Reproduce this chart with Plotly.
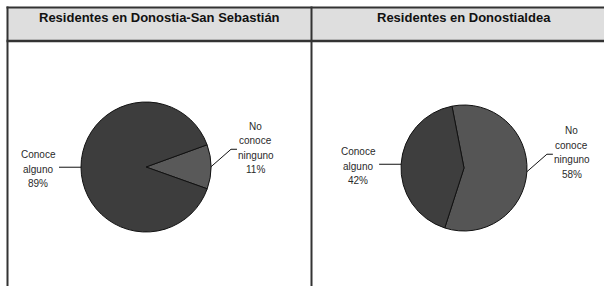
import math
import plotly.graph_objects as go

# ---- data ----
titles = ["Residentes en Donostia-San Sebastián", "Residentes en Donostialdea"]
labels = ["No conoce ninguno", "Conoce alguno"]
values_ss = [11, 89]
values_dl = [58, 42]
colors_ss = ["#595959", "#3d3d3d"]
colors_dl = ["#555555", "#3e3e3e"]

W, H = 604, 286

# pie geometry (pixel layout): center x, center y, radius, rotation
pies = [
    dict(values=values_ss, colors=colors_ss, cx=146, cy=167, r=65, rot=70),
    dict(values=values_dl, colors=colors_dl, cx=464, cy=168, r=63, rot=-11),
]

def px(x):
    return x / W

def py(y):
    return 1 - y / H

fig = go.Figure()
shapes = []
annotations = []
LINE_SP = 14.5
FONT_LBL = dict(family="Liberation Sans, Arial, sans-serif", size=10, color="#2a2a2a")

for p in pies:
    fig.add_trace(go.Pie(
        labels=labels, values=p["values"], sort=False, direction="clockwise",
        rotation=p["rot"], textinfo="none", hoverinfo="label+percent",
        marker=dict(colors=p["colors"], line=dict(color="#111111", width=1)),
        domain=dict(x=[px(p["cx"] - p["r"]), px(p["cx"] + p["r"])],
                    y=[py(p["cy"] + p["r"]), py(p["cy"] - p["r"])]),
        showlegend=False,
    ))
    total = sum(p["values"])
    start = p["rot"]
    for lab, v in zip(labels, p["values"]):
        span = 360 * v / total
        mid = math.radians(start + span / 2)
        start += span
        ex = p["cx"] + p["r"] * math.sin(mid)
        ey = p["cy"] - p["r"] * math.cos(mid)
        pct = round(100 * v / total)
        words = lab.split(" ") + [f"{pct}%"]
        if math.sin(mid) < 0:  # left side label
            lx, lcy = ex - 43, ey + 2
            path = f"M {px(ex)} {py(ey)} L {px(ex - 22)} {py(ey)}"
        else:  # right side label
            lx, lcy = ex + 45, ey - 19
            elx, ely = ex + 20, lcy + 1.5
            path = f"M {px(ex)} {py(ey)} L {px(elx)} {py(ely)} L {px(elx + 6)} {py(ely)}"
        shapes.append(dict(type="path", xref="paper", yref="paper", path=path,
                           line=dict(color="#111111", width=1)))
        n = len(words)
        for i, w in enumerate(words):
            yy = lcy + (i - (n - 1) / 2) * LINE_SP
            annotations.append(dict(x=px(lx), y=py(yy), xref="paper", yref="paper",
                                    text=w, showarrow=False, xanchor="center",
                                    yanchor="middle", font=FONT_LBL))

# table frame
BORDER = "#333333"
shapes.insert(0, dict(type="rect", xref="paper", yref="paper", x0=px(7), x1=1.0,
                      y0=py(41), y1=py(7), fillcolor="#dedede", line=dict(width=0),
                      layer="below"))
for x in [7.5, 311.5]:
    shapes.append(dict(type="line", xref="paper", yref="paper", x0=px(x), x1=px(x),
                       y0=py(6.5), y1=0, line=dict(color=BORDER, width=2)))
for y in [7.5, 41]:
    shapes.append(dict(type="line", xref="paper", yref="paper", x0=px(6.5), x1=1.0,
                       y0=py(y), y1=py(y), line=dict(color=BORDER, width=2.5 if y > 10 else 2)))

for t, cx in zip(titles, [159.5, 464]):
    annotations.append(dict(x=px(cx), y=py(18), xref="paper", yref="paper",
                            text=f"<b>{t}</b>", showarrow=False, xanchor="center",
                            yanchor="middle",
                            font=dict(family="Liberation Sans, Arial, sans-serif",
                                      size=13, color="#111111")))

fig.update_layout(
    width=W, height=H, margin=dict(l=0, r=0, t=0, b=0),
    paper_bgcolor="white", plot_bgcolor="white",
    shapes=shapes, annotations=annotations,
)

fig.write_html("out.html", config={"displayModeBar": False},
               post_script="document.body.style.margin='0';")
